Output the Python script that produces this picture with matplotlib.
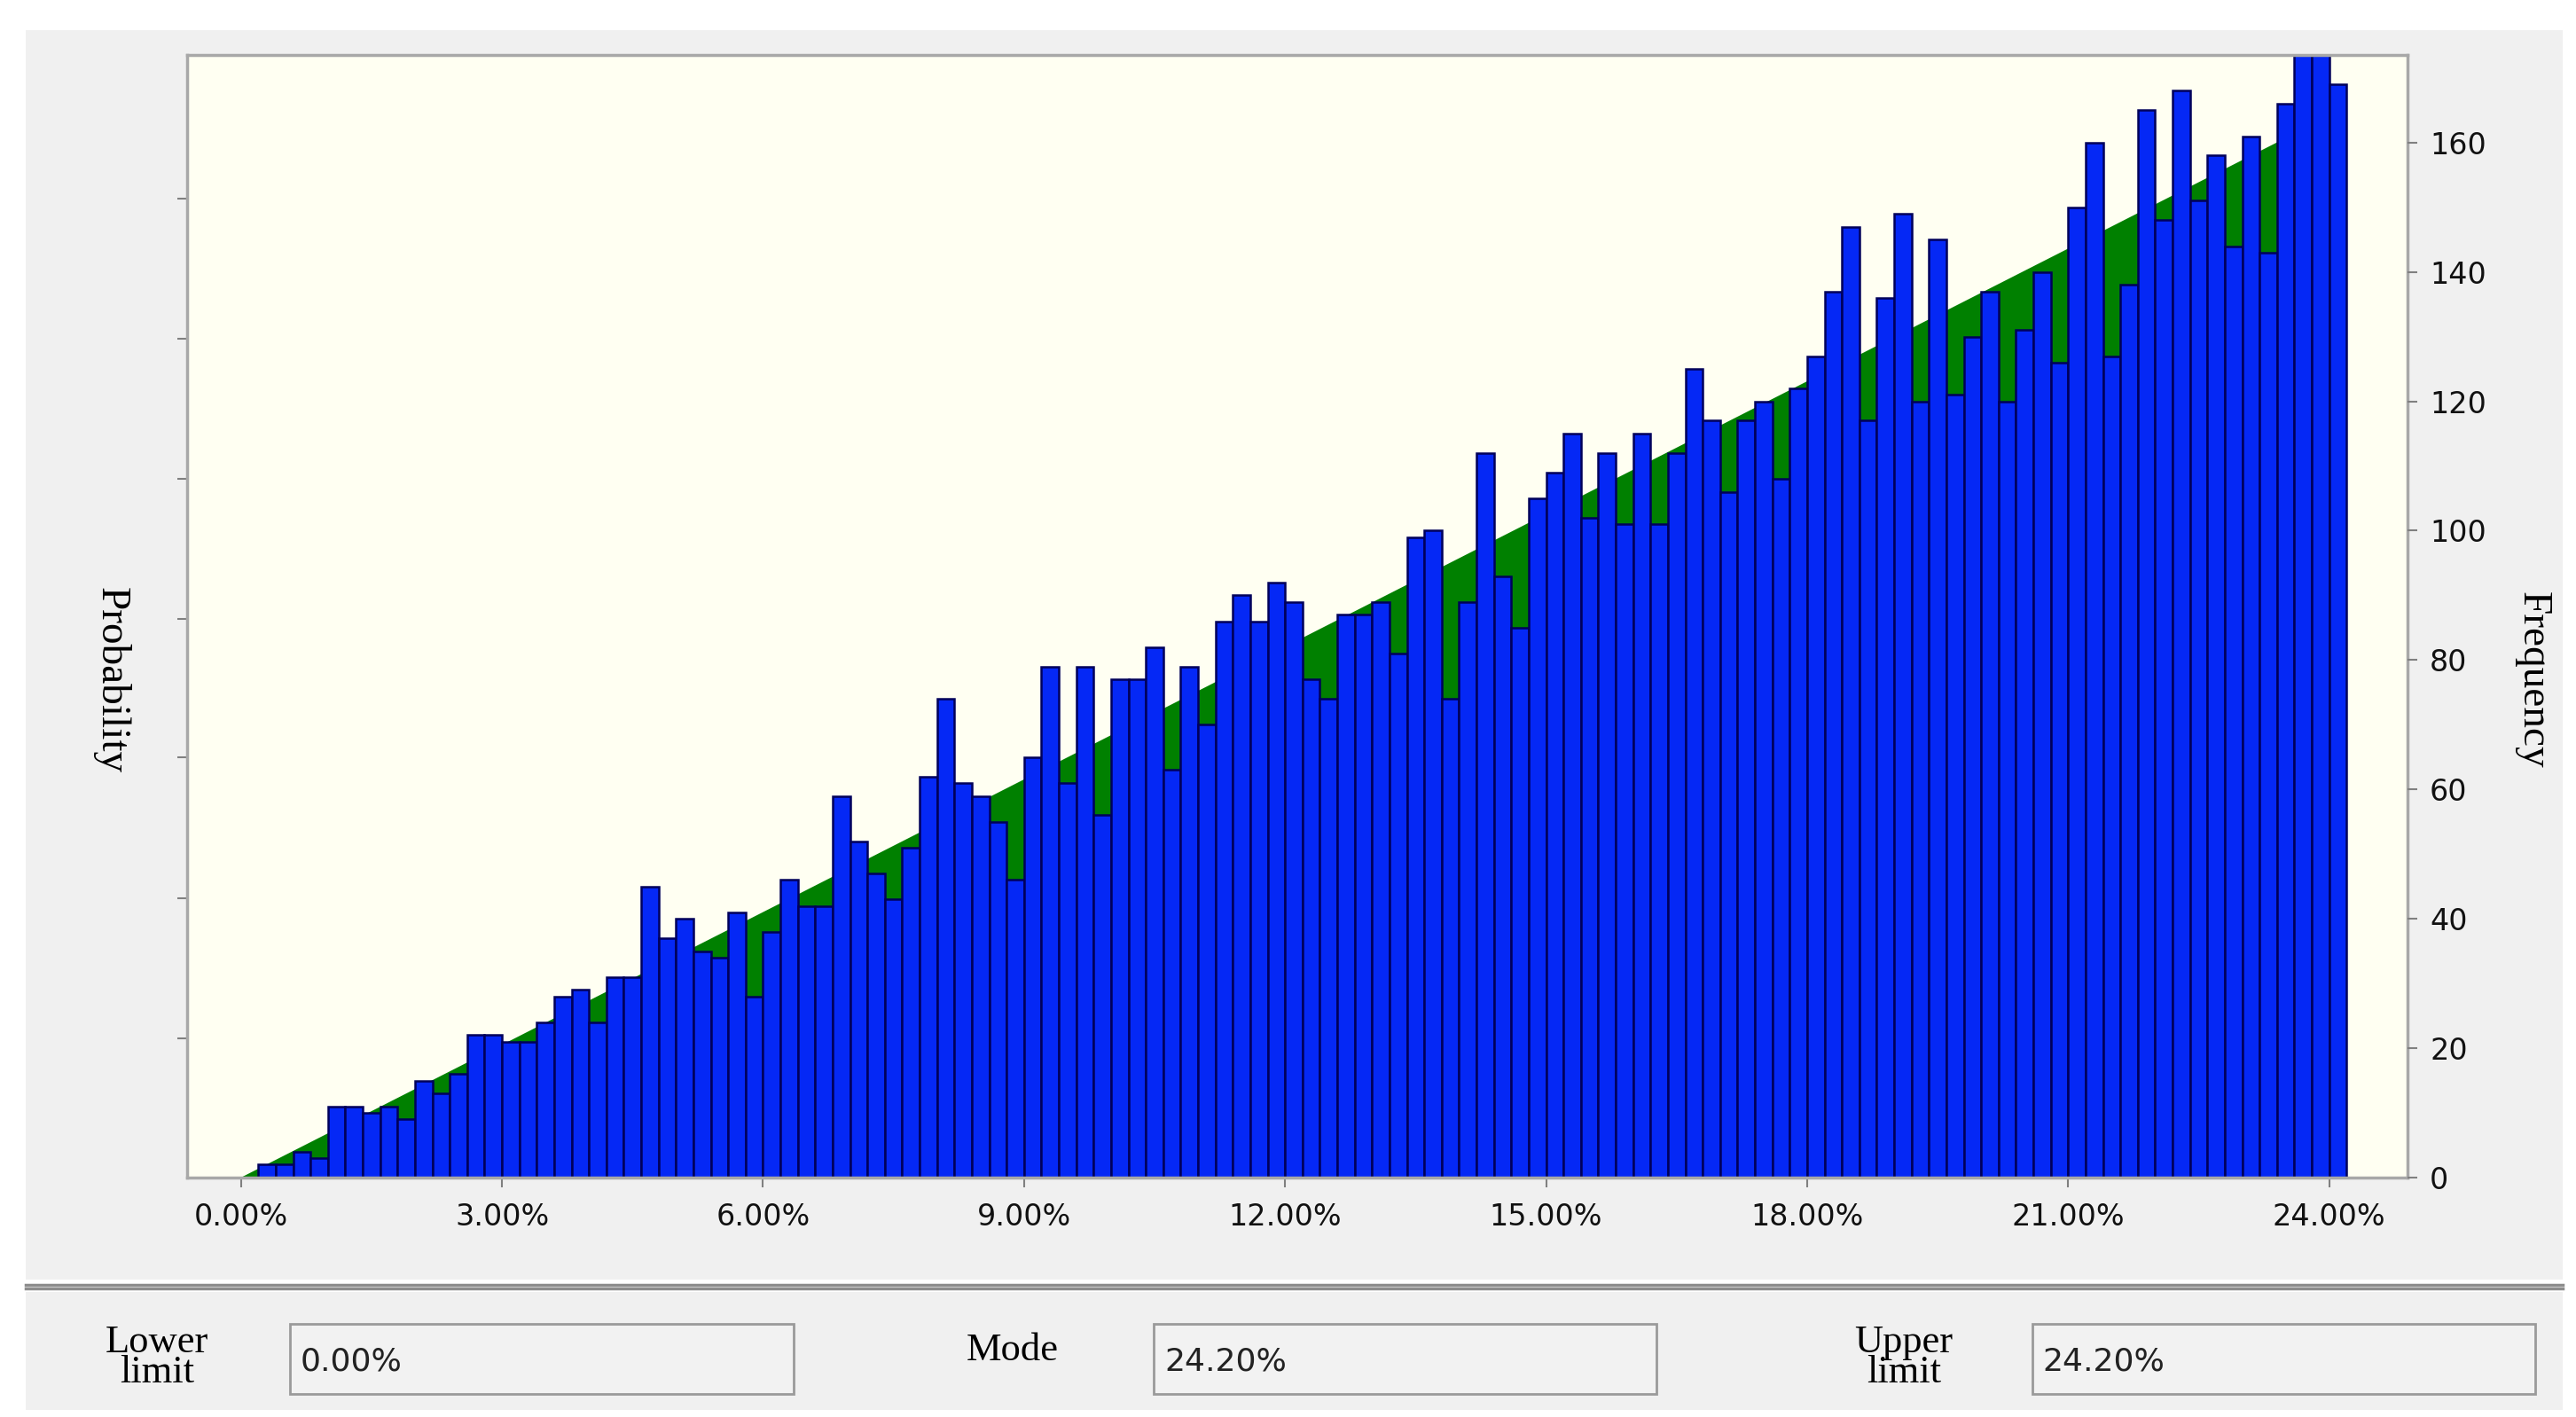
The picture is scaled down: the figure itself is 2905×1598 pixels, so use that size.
import matplotlib
matplotlib.use("Agg")
import matplotlib.pyplot as plt
import numpy as np
from matplotlib.patches import Rectangle

# ---- data ----
bin_width = 0.2  # percent
freq_a = [0, 2, 2, 4, 3, 11, 11, 10, 11, 9, 15, 13, 16, 22, 22, 21, 21, 24, 28, 29,
          24, 31, 31, 45, 37, 40, 35, 34, 41, 28, 38, 46, 42, 42, 59, 52, 47, 43, 51, 62,
          74, 61, 59, 55, 46, 65, 79, 61, 79, 56]
freq_b = [77, 77, 82, 63, 79, 70, 86, 90, 86, 92, 89, 77, 74, 87, 87, 89, 81, 99, 100, 74,
          89, 112, 93, 85, 105, 109, 115, 102, 112, 101, 115, 101, 112, 125, 117, 106, 117, 120, 108, 122]
freq_c = [127, 137, 147, 117, 136, 149, 120, 145, 121, 130, 137, 120, 131, 140, 126, 150, 160, 127, 138, 165,
          148, 168, 151, 158, 144, 161, 143, 166, 180, 180, 169]
freq = freq_a + freq_b + freq_c
bin_left = [i * bin_width for i in range(len(freq))]

# theoretical triangular density (vertices), in frequency units
tri_x = [0.0, 24.2, 24.2]
tri_y = [0.0, 165.5, 0.0]

right_ticks = [0, 20, 40, 60, 80, 100, 120, 140, 160]
left_ticks = [21.5, 43.2, 65.0, 86.4, 108.0, 129.7, 151.4]
x_ticks = [0, 3, 6, 9, 12, 15, 18, 21, 24]
x_labels = ["0.00%", "3.00%", "6.00%", "9.00%", "12.00%", "15.00%", "18.00%", "21.00%", "24.00%"]

lower_limit = "0.00%"
mode_val = "24.20%"
upper_limit = "24.20%"

# ---- figure ----
W, H = 2905, 1598
fig = plt.figure(figsize=(W / 100, H / 100), dpi=100, facecolor="white")
gray = "#f0f0f0"
fig.patches.append(Rectangle((0.010, 0.097), 0.985, 0.882, transform=fig.transFigure,
                             facecolor=gray, edgecolor="none", zorder=-10))
fig.patches.append(Rectangle((0.010, 0.005), 0.985, 0.083, transform=fig.transFigure,
                             facecolor=gray, edgecolor="none", zorder=-10))
for yy in (0.0935, 0.0905):
    fig.lines.append(plt.Line2D([0.010, 0.995], [yy, yy], transform=fig.transFigure,
                                color="#8c8c8c", lw=2.5))

ax = fig.add_axes([0.0726, 0.169, 0.862, 0.792])
ax.set_facecolor("#fffff2")
ax.fill(tri_x, tri_y, color="#008000", zorder=1, lw=0)
ax.bar(bin_left, freq, width=bin_width, align="edge", color="#0528f5",
       edgecolor="#00005a", linewidth=1.8, zorder=2)
ax.set_xlim(-0.62, 24.9)
ax.set_ylim(0, 173.5)
ax.set_xticks(x_ticks)
ax.set_xticklabels(x_labels, fontsize=24, color="#111111", family="DejaVu Sans")
ax.set_yticks(left_ticks)
ax.set_yticklabels([])
ax.tick_params(axis="both", length=8, width=1.5, color="#808080")
ax.tick_params(axis="x", pad=12)
for s in ax.spines.values():
    s.set_color("#a8a8a8")
    s.set_linewidth(2.5)

ax2 = ax.twinx()
ax2.set_ylim(0, 173.5)
ax2.set_yticks(right_ticks)
ax2.set_yticklabels([str(t) for t in right_ticks], fontsize=24, color="#111111")
ax2.tick_params(axis="y", length=8, width=1.5, color="#808080", pad=10)
for s in ax2.spines.values():
    s.set_visible(False)

serif = "Liberation Serif"
fig.text(0.043, 0.52, "Probability", rotation=270, fontsize=34, family=serif,
         ha="center", va="center")
fig.text(0.983, 0.52, "Frequency", rotation=270, fontsize=34, family=serif,
         ha="center", va="center")

# bottom panel
def box(x0, x1, text):
    fig.patches.append(Rectangle((x0, 0.016), x1 - x0, 0.05, transform=fig.transFigure,
                                 facecolor="#f2f2f2", edgecolor="#9a9a9a", lw=2))
    fig.text(x0 + 0.004, 0.039, text, fontsize=26, family="DejaVu Sans",
             ha="left", va="center", color="#222222")

fig.text(0.061, 0.042, "Lower\nlimit", fontsize=32, family=serif, ha="center",
         va="center", linespacing=0.8)
box(0.1125, 0.308, lower_limit)
fig.text(0.393, 0.047, "Mode", fontsize=32, family=serif, ha="center", va="center")
box(0.448, 0.643, mode_val)
fig.text(0.739, 0.042, "Upper\nlimit", fontsize=32, family=serif, ha="center",
         va="center", linespacing=0.8)
box(0.789, 0.984, upper_limit)

fig.savefig("out.png", dpi=100, facecolor="white")
